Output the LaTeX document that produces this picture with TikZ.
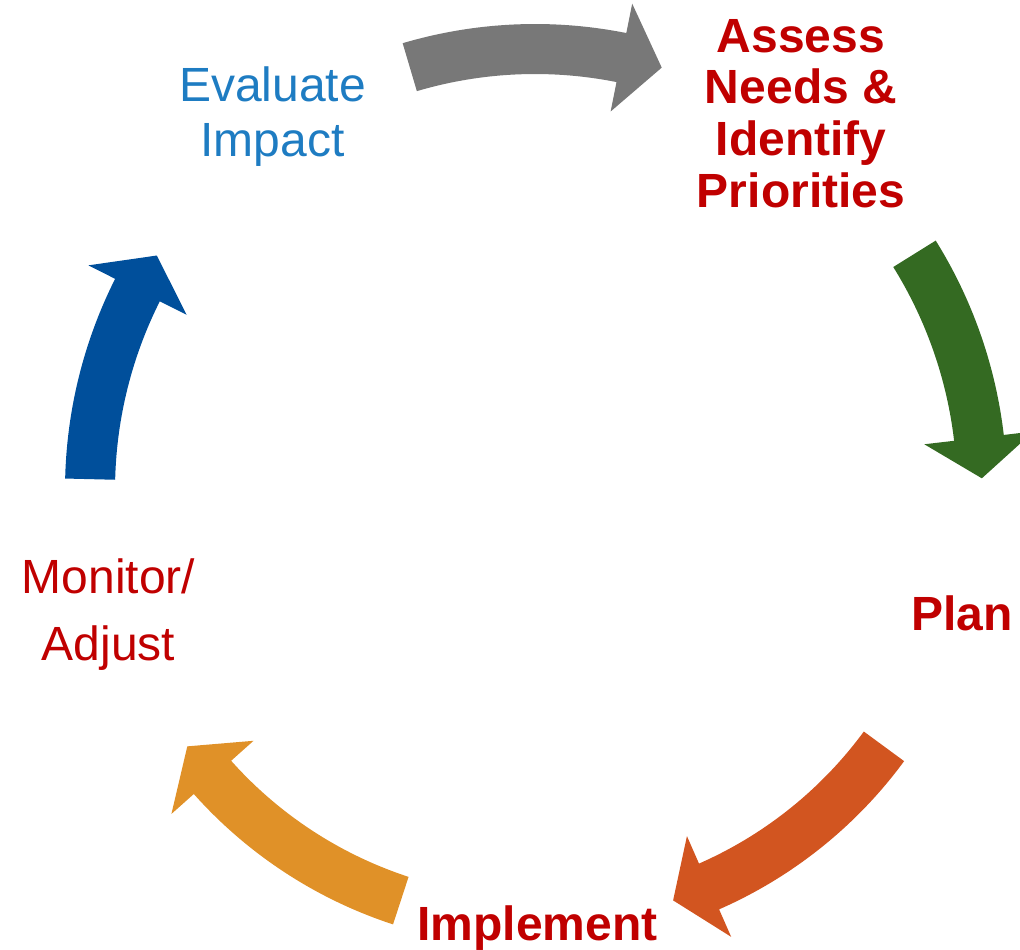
\documentclass[tikz,border=0pt]{standalone}
\usepackage{fontspec}
\setmainfont{Liberation Sans}
\usepackage{tikz}
\usetikzlibrary{positioning}

\definecolor{stepred}{RGB}{192,0,0}
\definecolor{evalblue}{RGB}{30,124,194}
\definecolor{arrgray}{RGB}{120,120,120}
\definecolor{arrgreen}{RGB}{52,106,34}
\definecolor{arrorange}{RGB}{210,85,32}
\definecolor{arryellow}{RGB}{224,145,40}
\definecolor{arrblue}{RGB}{0,79,155}

% curved block arrow round the centre: colour, tail angle, head angle, tip angle, radius
\newcommand{\cyclearrow}[5]{%
  \fill[#1] ({#2}:{#5+0.25}) arc[start angle=#2, end angle=#3, radius=#5+0.25]
    -- ({#3}:{#5+0.55}) -- ({#4}:{#5}) -- ({#3}:{#5-0.55}) -- ({#3}:{#5-0.25})
    arc[start angle=#3, end angle=#2, radius=#5-0.25] -- cycle;}

\begin{document}
\begin{tikzpicture}[x=1cm,y=1cm,
    lbl/.style={align=center,inner sep=0pt,anchor=base,
      font=\fontsize{13.66}{14.7}\selectfont},
    boldlbl/.style={lbl,font=\fontsize{13.66}{14.7}\selectfont\bfseries,text=stepred}]

  \useasboundingbox (0,0) rectangle (10.2,9.49);

  % the five arrows of the cycle
  \begin{scope}[shift={(5.35,4.59)}]
    \cyclearrow{arrgray}{106.5}{78.7}{73.3}{4.41}
    \cyclearrow{arrgreen}{31.9}{6.7}{1.5}{4.47}
    \cyclearrow{arrorange}{-36.3}{-66.3}{-71.4}{4.33}
    \cyclearrow{arryellow}{-108.1}{-138.3}{-143.6}{4.32}
    \cyclearrow{arrblue}{178.6}{153.3}{148.2}{4.45}
  \end{scope}

  % stages (base = baseline of the last line)
  \node[boldlbl] (assess) at (8.01,7.42) {Assess\\Needs \&\\Identify\\Priorities};
  \node[boldlbl] (plan) at (9.62,3.19) {Plan};
  \node[boldlbl] (impl) at (5.375,0.09) {Implement};
  \node[lbl,text=stepred,font=\fontsize{13.66}{19}\selectfont] (monitor) at (1.085,2.89) {Monitor/\\Adjust};
  \node[lbl,text=evalblue,font=\fontsize{13.66}{15.65}\selectfont] (eval) at (2.725,7.92) {Evaluate\\Impact};

\end{tikzpicture}
\end{document}
